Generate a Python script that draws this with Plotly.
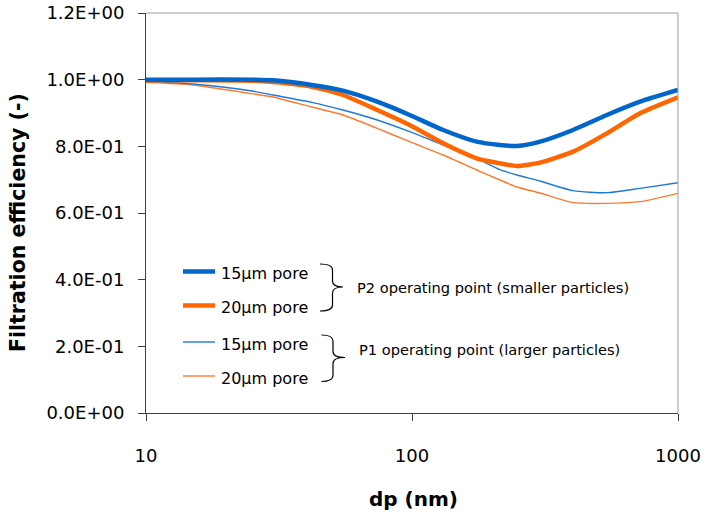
import plotly.graph_objects as go

# ---- data ----
dp_nm = [10, 15, 25, 30, 42, 55, 74, 98, 131, 175, 214, 248, 303, 403, 540, 720, 1000]
p2_15um = [1.000, 1.000, 1.000, 0.998, 0.984, 0.967, 0.934, 0.894, 0.849, 0.814, 0.804, 0.801, 0.814, 0.849, 0.894, 0.934, 0.969]
p2_20um = [0.998, 0.998, 0.997, 0.993, 0.979, 0.954, 0.909, 0.864, 0.809, 0.764, 0.749, 0.741, 0.751, 0.784, 0.839, 0.899, 0.947]
p1_15um = [0.996, 0.987, 0.966, 0.954, 0.932, 0.909, 0.879, 0.844, 0.804, 0.764, 0.730, 0.714, 0.696, 0.667, 0.661, 0.674, 0.691]
p1_20um = [0.992, 0.984, 0.958, 0.948, 0.918, 0.894, 0.854, 0.814, 0.774, 0.729, 0.699, 0.678, 0.660, 0.631, 0.629, 0.634, 0.659]

series_names = ["15µm pore", "20µm pore", "15µm pore", "20µm pore"]
group_labels = ["P2 operating point (smaller particles)", "P1 operating point (larger particles)"]
x_tickvals = [10, 100, 1000]
x_ticktext = ["10", "100", "1000"]
y_tickvals = [0, 0.2, 0.4, 0.6, 0.8, 1.0, 1.2]
y_ticktext = ["0.0E+00", "2.0E-01", "4.0E-01", "6.0E-01", "8.0E-01", "1.0E+00", "1.2E+00"]
x_title = "dp (nm)"
y_title = "Filtration efficiency (-)"

# ---- styling ----
W, H = 706, 515
PL, PR, PT, PB = 146, 678, 13, 413  # plot area in page pixels
ML, MT = PL, PT
MR, MB = W - PR, H - PB
PW, PH = PR - PL, PB - PT
BLUE = "#0066CC"
ORANGE = "#FF6600"
BLUE_T = "#1F7AD6"
ORANGE_T = "#FF7A2E"
FONT = "DejaVu Sans"


def px2x(px):
    return (px - PL) / PW


def py2y(py):
    return (PB - py) / PH


series = [
    (p2_15um, BLUE, 4.5),
    (p2_20um, ORANGE, 4.5),
    (p1_15um, BLUE_T, 1.4),
    (p1_20um, ORANGE_T, 1.4),
]

fig = go.Figure()
for idx in [3, 2, 1, 0]:
    vals, col, w = series[idx]
    fig.add_trace(go.Scatter(
        x=dp_nm, y=vals, mode="lines", name=series_names[idx],
        line=dict(color=col, width=w, shape="spline", smoothing=0.6),
        showlegend=False, hoverinfo="skip",
    ))

shapes = []
annotations = []

shapes.append(dict(type="line", xref="paper", yref="paper", x0=0, x1=1, y0=1, y1=1,
                   line=dict(color="#9a9a9a", width=1)))
shapes.append(dict(type="line", xref="paper", yref="paper", x0=1, x1=1, y0=0, y1=1,
                   line=dict(color="#9a9a9a", width=1)))

legend_y = [271.5, 305.5, 342.0, 376.0]
for i, (vals, col, w) in enumerate(series):
    yy = py2y(legend_y[i])
    shapes.append(dict(type="line", xref="paper", yref="paper",
                       x0=px2x(183), x1=px2x(215), y0=yy, y1=yy,
                       line=dict(color=col, width=w)))
    annotations.append(dict(xref="paper", yref="paper", x=px2x(219), y=py2y(legend_y[i] + 2),
                            text=series_names[i], showarrow=False, xanchor="left", yanchor="middle",
                            font=dict(family=FONT, size=16, color="#000000")))


def brace_path(x0, x_spine, x_tip, ytop, ymid, ybot):
    r = 6

    def P(x, y):
        return f"{px2x(x):.5f},{py2y(y):.5f}"
    return (f"M {P(x0, ytop)} Q {P(x_spine, ytop)} {P(x_spine, ytop + r)} "
            f"L {P(x_spine, ymid - r)} Q {P(x_spine, ymid)} {P(x_tip, ymid)} "
            f"Q {P(x_spine, ymid)} {P(x_spine, ymid + r)} "
            f"L {P(x_spine, ybot - r)} Q {P(x_spine, ybot)} {P(x0, ybot)}")


shapes.append(dict(type="path", xref="paper", yref="paper",
                   path=brace_path(320, 332.5, 343, 264, 287, 311),
                   line=dict(color="#000000", width=1.2)))
shapes.append(dict(type="path", xref="paper", yref="paper",
                   path=brace_path(321.5, 333, 345, 335, 357.5, 381.5),
                   line=dict(color="#000000", width=1.2)))

annotations.append(dict(xref="paper", yref="paper", x=px2x(355), y=py2y(287),
                        text=group_labels[0], showarrow=False, xanchor="left", yanchor="middle",
                        font=dict(family=FONT, size=14.6, color="#000000")))
annotations.append(dict(xref="paper", yref="paper", x=px2x(357), y=py2y(349),
                        text=group_labels[1], showarrow=False, xanchor="left", yanchor="middle",
                        font=dict(family=FONT, size=14.6, color="#000000")))

annotations.append(dict(xref="paper", yref="paper", x=px2x(18), y=py2y(223),
                        text=f"<b>{y_title}</b>", showarrow=False, textangle=-90,
                        xanchor="center", yanchor="middle",
                        font=dict(family=FONT, size=20.5, color="#000000")))
annotations.append(dict(xref="paper", yref="paper", x=px2x(413), y=py2y(499),
                        text=f"<b>{x_title}</b>", showarrow=False,
                        xanchor="center", yanchor="middle",
                        font=dict(family=FONT, size=20, color="#000000")))

fig.update_layout(
    template="none",
    width=W, height=H, autosize=False,
    margin=dict(l=ML, r=MR, t=MT, b=MB, pad=0, autoexpand=False),
    paper_bgcolor="white", plot_bgcolor="white",
    showlegend=False,
    shapes=shapes, annotations=annotations,
    font=dict(family=FONT, size=18, color="#000000"),
)
fig.update_xaxes(
    type="log", range=[1, 3], tickvals=x_tickvals, ticktext=x_ticktext, automargin=False,
    showgrid=False, zeroline=False, showline=True, linecolor="#404040", linewidth=1,
    ticks="outside", ticklen=7, tickcolor="#404040", tickwidth=1, ticklabeloverflow="allow",
    tickfont=dict(family=FONT, size=18, color="#000000"), ticklabelstandoff=19,
)
fig.update_yaxes(
    range=[0, 1.2], tickvals=y_tickvals, ticktext=y_ticktext, automargin=False,
    showgrid=False, zeroline=False, showline=True, linecolor="#404040", linewidth=1,
    ticks="outside", ticklen=7, tickcolor="#404040", tickwidth=1, ticklabeloverflow="allow",
    tickfont=dict(family=FONT, size=18, color="#000000"), ticklabelstandoff=10,
)

fig.write_html("out.html", config={"displayModeBar": False},
               post_script="document.body.style.margin='0';")
